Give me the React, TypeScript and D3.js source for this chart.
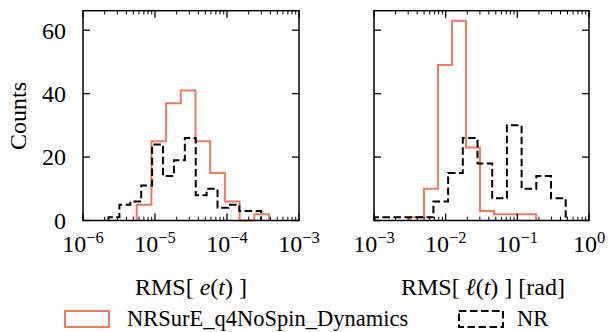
import * as d3 from 'd3';

// histogram counts
const eccSurCounts = [5, 25, 37, 41, 25, 15, 6, 0, 2];
const eccNRCounts = [1, 5, 6, 11, 24, 14, 19, 26, 8, 10, 4, 5, 3, 3];
const phaseSurCounts = [1, 10, 49, 63, 23, 3, 2, 2, 2];
const phaseNRCounts = [1, 1, 1, 1, 6, 15, 26, 18, 7, 30, 10, 14, 7];

// outer bin edges (log-spaced bins between them)
const eccSurRange = [5.57e-6, 3.83e-4];
const eccNRRange = [2.26e-6, 2.98e-4];
const phaseSurRange = [3.18e-3, 0.182];
const phaseNRRange = [1.02e-3, 0.473];

const yTicks = [0, 20, 40, 60];
const eccTicks = [1e-6, 1e-5, 1e-4, 1e-3];
const phaseTicks = [1e-3, 1e-2, 1e-1, 1];

const SUR_COLOR = '#ec7a5f';
const FONT = '"Liberation Serif", serif';

const W = 608;
const H = 332;
const top = 10.7;
const bottom = 220.5;

const y = d3.scaleLinear().domain([0, 66.15]).range([bottom, top]);

function logEdges(range: number[], n: number) {
  const lo = Math.log10(range[0]);
  const hi = Math.log10(range[1]);
  return d3.range(n + 1).map((i) => Math.pow(10, lo + ((hi - lo) * i) / n));
}

function stepPath(counts: number[], range: number[], x: d3.ScaleLogarithmic<number, number>) {
  const e = logEdges(range, counts.length);
  let d = `M${x(e[0])},${y(0)}`;
  counts.forEach((c, i) => {
    d += `L${x(e[i])},${y(c)}L${x(e[i + 1])},${y(c)}`;
  });
  d += `L${x(e[counts.length])},${y(0)}`;
  return d;
}

function expLabel(v: number) {
  return Math.round(Math.log10(v));
}

function Panel({
  x0,
  x1,
  domain,
  ticks,
  sur,
  surRange,
  nr,
  nrRange,
  showY,
}: {
  x0: number;
  x1: number;
  domain: number[];
  ticks: number[];
  sur: number[];
  surRange: number[];
  nr: number[];
  nrRange: number[];
  showY: boolean;
}) {
  const x = d3.scaleLog().domain(domain).range([x0, x1]);
  const minor: number[] = [];
  ticks.slice(0, -1).forEach((t) => {
    for (let k = 2; k <= 9; k++) minor.push(t * k);
  });
  const major = 7;
  const minorLen = 3.8;
  return (
    <g>
      <path d={stepPath(sur, surRange, x)} fill="none" stroke={SUR_COLOR} strokeWidth={2} />
      <path
        d={stepPath(nr, nrRange, x)}
        fill="none"
        stroke="#000"
        strokeWidth={2}
        strokeDasharray="7.5,3.5"
      />
      {/* x ticks, bottom and top */}
      {ticks.map((t) => (
        <g key={'M' + t}>
          <line x1={x(t)} x2={x(t)} y1={bottom} y2={bottom - major} stroke="#000" strokeWidth={1.3} />
          <line x1={x(t)} x2={x(t)} y1={top} y2={top + major} stroke="#000" strokeWidth={1.3} />
          <text x={x(t)} y={252} textAnchor="middle" fontSize={24} fontFamily={FONT}>
            10
            <tspan dy={-9} fontSize={16.5}>
              {expLabel(t) < 0 ? '\u2212' + Math.abs(expLabel(t)) : expLabel(t)}
            </tspan>
          </text>
        </g>
      ))}
      {minor.map((t) => (
        <g key={'m' + t}>
          <line x1={x(t)} x2={x(t)} y1={bottom} y2={bottom - minorLen} stroke="#000" strokeWidth={1} />
          <line x1={x(t)} x2={x(t)} y1={top} y2={top + minorLen} stroke="#000" strokeWidth={1} />
        </g>
      ))}
      {/* y ticks, left and right */}
      {yTicks.map((t) => (
        <g key={'y' + t}>
          <line x1={x0} x2={x0 + major} y1={y(t)} y2={y(t)} stroke="#000" strokeWidth={1.3} />
          <line x1={x1} x2={x1 - major} y1={y(t)} y2={y(t)} stroke="#000" strokeWidth={1.3} />
          {showY && (
            <text x={66} y={y(t)} dy="0.35em" textAnchor="end" fontSize={24} fontFamily={FONT}>
              {t}
            </text>
          )}
        </g>
      ))}
      <rect x={x0} y={top} width={x1 - x0} height={bottom - top} fill="none" stroke="#000" strokeWidth={1.5} />
    </g>
  );
}

export default function App() {
  return (
    <svg
      width={W}
      height={H}
      viewBox={`0 0 ${W} ${H}`}
      style={{ position: 'absolute', left: 0, top: 0, background: '#fff' }}
    >
      <rect width={W} height={H} fill="#fff" />
      <Panel
        x0={83}
        x1={299}
        domain={[1e-6, 1e-3]}
        ticks={eccTicks}
        sur={eccSurCounts}
        surRange={eccSurRange}
        nr={eccNRCounts}
        nrRange={eccNRRange}
        showY
      />
      <Panel
        x0={374}
        x1={589}
        domain={[1e-3, 1]}
        ticks={phaseTicks}
        sur={phaseSurCounts}
        surRange={phaseSurRange}
        nr={phaseNRCounts}
        nrRange={phaseNRRange}
        showY={false}
      />
      <text
        transform="translate(26,116) rotate(-90)"
        textAnchor="middle"
        fontSize={24}
        fontFamily={FONT}
      >
        Counts
      </text>
      <text x={191} y={295} textAnchor="middle" fontSize={24} fontFamily={FONT}>
        {'RMS[ '}
        <tspan fontStyle="italic">e</tspan>
        {'('}
        <tspan fontStyle="italic">t</tspan>
        {') ]'}
      </text>
      <text x={483} y={295} textAnchor="middle" fontSize={24} fontFamily={FONT}>
        {'RMS[ '}
        <tspan fontStyle="italic">{'\u2113'}</tspan>
        {'('}
        <tspan fontStyle="italic">t</tspan>
        {') ] [rad]'}
      </text>
      {/* legend */}
      <rect x={65} y={311} width={44} height={16} fill="none" stroke={SUR_COLOR} strokeWidth={2} />
      <text x={127} y={326} fontSize={22.5} fontFamily={FONT}>
        NRSurE_q4NoSpin_Dynamics
      </text>
      <rect
        x={459}
        y={311}
        width={44}
        height={16}
        fill="none"
        stroke="#000"
        strokeWidth={2}
        strokeDasharray="7.5,3.5"
      />
      <text x={517} y={326} fontSize={22.5} fontFamily={FONT}>
        NR
      </text>
    </svg>
  );
}
